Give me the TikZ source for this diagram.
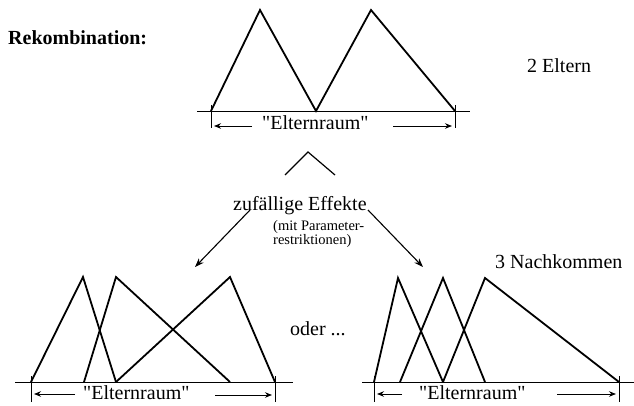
\documentclass[tikz,border=0pt]{standalone}
\usepackage{fontspec}
\setmainfont{Liberation Serif}
\usetikzlibrary{arrows.meta}
\newcommand\qd{\textquotedbl}
\begin{document}
\begin{tikzpicture}[x=1pt,y=-1pt,
  tri/.style={line width=1.8pt, line join=miter},
  baseln/.style={line width=0.9pt},
  tickln/.style={line width=0.9pt},
  arr/.style={line width=0.9pt,-{Stealth[length=7pt,width=5.5pt]}},
  dirarr/.style={line width=1.1pt,-{Stealth[length=9pt,width=6.5pt]}},
  lbl/.style={inner sep=0pt, anchor=base west, font=\fontsize{20}{24}\selectfont},
  small/.style={inner sep=0pt, anchor=base west, font=\fontsize{14.5}{14}\selectfont},
  ]
\useasboundingbox (0,0) rectangle (634,406);

% titles
\node[lbl, font=\fontsize{20}{24}\selectfont\bfseries] (rek) at (8,45) {Rekombination:};
\node[lbl] (eltern) at (527,73) {2 Eltern};
\node[lbl] (nach) at (495,268) {3 Nachkommen};
\node[lbl] (oder) at (290,335) {oder ...};

% top parents
\draw[baseln] (197,111) -- (470,111);
\draw[tickln] (211,105) -- (211,128);
\draw[tickln] (455,105) -- (455,128);
\draw[tri] (211,111) -- (260,10) -- (316,111) -- (371,10) -- (455,111);
\node[lbl] (er1) at (262,130) {\qd Elternraum\qd};
\coordinate (a1s) at (252,126);
\coordinate (a1e) at (214,126);
\coordinate (a2s) at (393,126);
\coordinate (a2e) at (452,126);
\draw[arr] (a1s) -- (a1e);
\draw[arr] (a2s) -- (a2e);

% caret and effects
\draw[line width=1.2pt] (285,175) -- (308,152) -- (335,175);
\node[lbl] (eff) at (233,211) {zufällige Effekte};
\node[small] (mit) at (273,230) {(mit Parameter-};
\node[small] (res) at (273,244) {restriktionen)};
\coordinate (ls) at (250,210);
\coordinate (le) at (195,267);
\coordinate (rs) at (368,210);
\coordinate (re) at (423,267);
\draw[dirarr] (ls) -- (le);
\draw[dirarr] (rs) -- (re);

% bottom left
\draw[baseln] (15,382) -- (293,382);
\draw[tickln] (31,376) -- (31,402);
\draw[tickln] (275,376) -- (275,402);
\draw[tri] (31,382) -- (83,277) -- (116,382);
\draw[tri] (84,382) -- (116,277) -- (230,382);
\draw[tri] (116,382) -- (230,277) -- (275,382);
\node[lbl] (er2) at (83,399) {\qd Elternraum\qd};
\coordinate (b1s) at (75,394);
\coordinate (b1e) at (34,394);
\coordinate (b2s) at (215,395);
\coordinate (b2e) at (272,395);
\draw[arr] (b1s) -- (b1e);
\draw[arr] (b2s) -- (b2e);

% bottom right
\draw[baseln] (362,382) -- (634,382);
\draw[tickln] (374,376) -- (374,402);
\draw[tickln] (619,376) -- (619,402);
\draw[tri] (374,382) -- (398,278) -- (443,382);
\draw[tri] (400,382) -- (443,278) -- (485,382);
\draw[tri] (443,382) -- (485,278) -- (619,382);
\node[lbl] (er3) at (419,399) {\qd Elternraum\qd};
\coordinate (c1s) at (402,394);
\coordinate (c1e) at (377,394);
\coordinate (c2s) at (557,394);
\coordinate (c2e) at (616,394);
\draw[arr] (c1s) -- (c1e);
\draw[arr] (c2s) -- (c2e);
\end{tikzpicture}
\end{document}
